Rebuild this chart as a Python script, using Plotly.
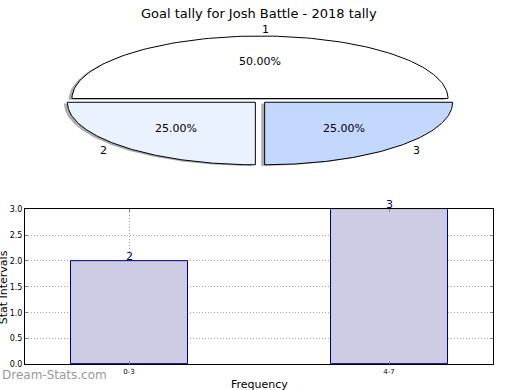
import numpy as np
import plotly.graph_objects as go

# ---------------- data ----------------
title_text = "Goal tally for Josh Battle - 2018 tally"
pie_labels = ["1", "2", "3"]
pie_values = [2, 1, 1]
pie_colors = ["#FFFFFF", "#EAF1FF", "#C4D8FF"]

bar_categories = ["0-3", "4-7"]
bar_values = [2, 3]
y_ticks = [0.0, 0.5, 1.0, 1.5, 2.0, 2.5, 3.0]

W, H = 520, 390
FONT = "DejaVu Sans"

fig = go.Figure()

# ---------------- elliptical exploded pie (drawn on its own axes) ----------------
explode = 0.035
vals = np.array(pie_values, dtype=float)
frac = vals / vals.sum()
starts = np.concatenate([[0.0], np.cumsum(frac)[:-1]]) * 360.0
ends = np.cumsum(frac) * 360.0

slices = []
for i in range(len(vals)):
    a0, a1 = np.radians(starts[i]), np.radians(ends[i])
    mid = (a0 + a1) / 2
    cx, cy = explode * np.cos(mid), explode * np.sin(mid)
    th = np.linspace(a0, a1, 120)
    xs = np.concatenate([[cx], cx + np.cos(th), [cx]])
    ys = np.concatenate([[cy], cy + np.sin(th), [cy]])
    slices.append((xs, ys, cx, cy, mid))

# shadows
for xs, ys, cx, cy, mid in slices:
    fig.add_trace(go.Scatter(x=xs - 0.018, y=ys - 0.018, mode="lines", fill="toself",
                             fillcolor="rgba(70,70,70,0.45)", line=dict(width=0),
                             hoverinfo="skip", showlegend=False, xaxis="x2", yaxis="y2"))
# wedges
for i, (xs, ys, cx, cy, mid) in enumerate(slices):
    fig.add_trace(go.Scatter(x=xs, y=ys, mode="lines", fill="toself",
                             fillcolor=pie_colors[i], line=dict(color="black", width=1),
                             hoverinfo="skip", showlegend=False, xaxis="x2", yaxis="y2"))

annotations = []
for i, (xs, ys, cx, cy, mid) in enumerate(slices):
    lx = cx + 1.1 * np.cos(mid)
    ly = cy + 1.1 * np.sin(mid)
    annotations.append(dict(x=lx, y=ly, xref="x2", yref="y2", text=pie_labels[i],
                            showarrow=False, xanchor="left" if lx >= -1e-9 else "right",
                            yanchor="middle", font=dict(family=FONT, size=11, color="black")))
    px = cx + 0.6 * np.cos(mid)
    py = cy + 0.6 * np.sin(mid)
    annotations.append(dict(x=px, y=py, xref="x2", yref="y2",
                            text="%.2f%%" % (frac[i] * 100), showarrow=False,
                            xanchor="center", yanchor="middle",
                            font=dict(family=FONT, size=11, color="black")))

# ---------------- bar chart ----------------
fig.add_trace(go.Bar(x=bar_categories, y=bar_values, width=0.45,
                     marker=dict(color="#CCCCE5", line=dict(color="#000080", width=1)),
                     showlegend=False, hoverinfo="skip", xaxis="x", yaxis="y"))
for c, v in zip(bar_categories, bar_values):
    annotations.append(dict(x=c, y=v, xref="x", yref="y", text=str(v), showarrow=False,
                            xanchor="center", yanchor="bottom", yshift=-4,
                            font=dict(family=FONT, size=11, color="#000080")))

# titles / watermark
annotations += [
    dict(x=0.498, y=(H - 10) / H, xref="paper", yref="paper", text=title_text,
         showarrow=False, xanchor="center", yanchor="middle",
         font=dict(family=FONT, size=13, color="black")),
    dict(x=3 / W, y=(H - 290) / H, xref="paper", yref="paper", text="Stat Intervals",
         textangle=-90, showarrow=False, xanchor="center", yanchor="middle",
         font=dict(family=FONT, size=11, color="black")),
    dict(x=259 / W, y=(H - 389) / H, xref="paper", yref="paper", text="Frequency",
         showarrow=False, xanchor="center", yanchor="middle",
         font=dict(family=FONT, size=11, color="black")),
    dict(x=0, y=(H - 380) / H, xref="paper", yref="paper", text="Dream-Stats.com",
         showarrow=False, xanchor="left", yanchor="middle",
         font=dict(family=FONT, size=12, color="#9A9A9A")),
]

axis_common = dict(showline=True, linecolor="black", linewidth=1, mirror="ticks",
                   ticks="inside", ticklen=3, tickcolor="#888888",
                   showgrid=True, gridcolor="#A8A8A8", griddash="1px,2px", gridwidth=1,
                   zeroline=False, fixedrange=True)

fig.update_layout(
    width=W, height=H,
    margin=dict(l=0, r=0, t=0, b=0),
    paper_bgcolor="white", plot_bgcolor="white",
    font=dict(family=FONT, color="black"),
    xaxis=dict(domain=[25 / W, 493 / W], range=[-0.4, 1.4], anchor="y",
               tickfont=dict(size=7, family=FONT), **axis_common),
    yaxis=dict(domain=[(H - 369) / H, (H - 210) / H], range=[0, 3], anchor="x",
               tickvals=y_ticks, tickformat=".1f",
               tickfont=dict(size=8, family=FONT), **axis_common),
    xaxis2=dict(domain=[0, 1], range=[-260 / 188, 260 / 188], anchor="y2",
                visible=False, fixedrange=True),
    yaxis2=dict(domain=[(H - 180) / H, (H - 20) / H], range=[-81 / 64, 79 / 64],
                anchor="x2", visible=False, fixedrange=True),
    annotations=annotations,
    bargap=0,
)

fig.write_html("out.html", config={"displayModeBar": False},
               post_script="document.body.style.margin='0';document.body.style.overflow='hidden';")
